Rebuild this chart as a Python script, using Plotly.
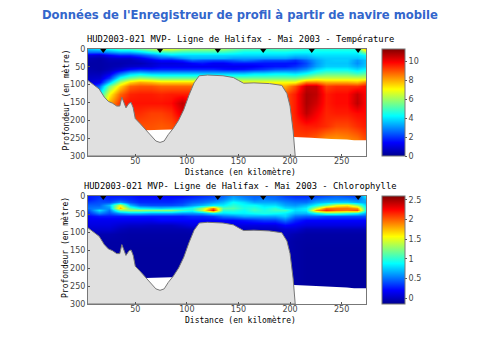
import plotly.graph_objects as go

W, H = 481, 360
distance_km = [4,15,25,35,45,55,65,75,85,95,105,115,125,135,145,155,165,175,185,195,205,215,225,235,245,255,265,274]
depth_m = [0,8,16,24,32,40,48,56,68,80,92,105,125,150,180,215,260]

temperature = [
 [3.5,3.8,4.2,4.8,4.8,5.2,5.8,6.5,6.5,6,5.8,5.8,5.8,5.8,5.4,5,5,4.8,5,5,4.8,4.6,4.6,4.6,4.6,4.6,4.6,8],
 [2.6,2.6,3,3.4,3.4,3.8,4.4,4.8,5,4.8,4.8,4.8,4.8,4.8,4.6,4.3,4.3,4.3,4.3,4.3,4.2,4.2,4.2,4.2,4.2,4.2,4.2,6],
 [1,.8,1.4,1.8,1.8,2.2,2.8,3.4,3.8,3.8,3.8,3.8,3.8,3.8,3.8,3.8,3.8,3.8,3.8,3.8,3.6,3.6,3.9,3.9,3.9,3.9,3.9,4.2],
 [.5,.4,.7,.8,.8,1.2,1.8,2.4,2.4,3,3.4,3.4,3.4,3.4,3.2,3.2,3.2,3.2,3.2,3.2,2.9,3.1,3.5,3.7,3.7,3.7,3.6,3.9],
 [.4,.3,.5,.5,.5,.8,1.1,1.5,1.5,1.8,2.5,2.3,2.2,2.2,2.4,2.7,2.5,2.2,2.2,2.2,1.9,2.5,3.2,3.6,3.7,3.7,3.1,3.6],
 [.3,.3,.4,.4,.5,.5,.8,1,1,1.1,1.4,1.6,1.3,1.3,1.6,1.6,1.6,1.6,1.6,1.6,1.6,2.2,3.1,3.6,3.6,3.6,3,3.6],
 [.3,.3,.4,.5,.7,.8,.9,1.2,1.2,1.2,1.2,1.2,1.2,1.2,1.2,1.2,1.3,1.5,1.6,1.6,1.9,2.4,3.2,3.7,3.7,3.7,3.3,3.7],
 [.4,.3,.5,.9,1.5,1.8,1.7,1.8,1.8,1.8,1.8,1.8,1.8,1.6,1.5,1.6,1.8,2,2.3,2.4,2.5,3,3.8,4.2,4.2,4.2,3.8,4.2],
 [.5,.5,1,2.5,3.5,3.8,3.5,3.5,3.5,3.5,3.5,3.5,3.5,3.5,3.5,3.5,3.8,3.8,4,4,3.8,4.2,4.8,5.2,5.2,5.2,4.8,5.2],
 [.7,.8,2,4.5,5.5,6,5.8,5.5,5.5,5.5,5.5,5.5,5.5,5.5,5.5,5.5,5.5,5.5,5.5,5.5,5.5,6,6.5,6.5,6.5,6.5,6.5,6.5],
 [.8,1.2,3.5,6.2,7.5,8,7.8,7.5,7.5,7.5,7.5,7.5,7.5,7,7,7,7,7,7,7,7,8.5,8.5,8,8,8,7.8,8.5],
 [1,2.5,5.5,7.5,8.8,9,9,8.8,8.8,8.8,8.8,8.8,8.5,8,8,8,8,8,8,8,9,10.5,10.5,9.2,9.4,9.4,9.4,9.8],
 [1,4,7,8.8,9.5,9.6,9.6,9.5,9.6,9.6,9.6,9.6,9,9,9,9,9,9,9,9,9.6,10.8,10.6,9.6,9.8,9.8,10.5,9.8],
 [1,5,8,9.4,9.7,9.7,9.7,9.7,9.8,10.6,9.8,9.7,9,9,9,9,9,9,9,9,9.6,10.8,10.4,9.6,9.8,9.8,10.6,9.8],
 [1,5,8,9.2,9.4,9.4,9.2,9.2,9.4,10.2,9.6,9.6,9,9,9,9,9,9,9,9,9.6,10.6,10,9.5,9.6,9.6,9.8,9.8],
 [1,5,8,9,9,9,9,8.9,9,9.4,9.6,9.6,9,9,9,9,9,9,9,9,9.4,9.6,9.6,9.4,9.1,9.1,9.4,9.6],
 [1,5,8,9,9,9,8.8,8.8,9,9.4,9.6,9.6,9,9,9,9,9,9,9,9,9.1,9,8.6,8,8,8.2,8.4,9],
]

chlorophyll = [
 [.25,.3,.25,.25,.25,.2,.2,.2,.2,.2,.25,.3,.35,.45,.6,.5,.45,.45,.45,.35,.3,.3,.35,.4,.45,.4,.35,.9],
 [.25,.35,.3,.35,.3,.25,.25,.25,.25,.3,.35,.4,.45,.55,.7,.6,.5,.55,.5,.45,.4,.4,.5,.55,.55,.55,.5,.7],
 [.35,.4,.4,.6,.4,.3,.3,.3,.3,.35,.45,.5,.6,.7,.9,.8,.65,.65,.65,.55,.5,.5,.65,.7,.75,.75,.65,.65],
 [.45,.45,.7,1.5,.7,.45,.4,.4,.4,.45,.6,.7,.85,.85,1,.9,.9,.8,.8,.65,.6,.7,.9,1.15,1.5,1.6,1.25,.75],
 [.5,.55,.6,1.75,1.1,.85,.8,.75,.8,.85,.95,1.3,1.95,1.1,1.1,.95,1,.9,1,.8,.75,.85,1.4,1.95,1.95,1.95,1.85,.85],
 [.4,.8,.5,1.2,1.3,1.3,1.25,1.25,1.25,1.05,.95,1.4,2.2,1,1,.9,1.05,.95,1.05,1.05,.8,.85,1.85,2.15,2,1.95,2.05,.85],
 [.3,.55,.4,.6,.7,.7,.65,.65,.65,.6,.6,.65,.85,.8,.85,.85,.9,.95,.9,.85,.7,.7,.9,1.1,1.1,1,.9,.65],
 [.2,.25,.25,.25,.25,.25,.25,.25,.25,.25,.3,.3,.35,.5,.55,.65,.65,.65,.65,.75,.5,.45,.45,.4,.4,.4,.4,.4],
 [.15,.15,.15,.15,.15,.15,.15,.2,.2,.2,.2,.2,.2,.2,.2,.25,.3,.35,.35,.5,.3,.2,.2,.2,.2,.2,.2,.2],
 [.1,.1,.1,.05,.02,.02,.0,.0,.0,.05,.1,.1,.1,.1,.1,.1,.1,.1,.1,.2,.15,.1,.1,.1,.1,.1,.1,.1],
 [.05,.05,.05,-.02,-.05,-.05,-.05,-.05,-.05,-.05,-.03,.0,.0,.0,.0,.0,.0,.0,.0,.05,.05,-.03,-.03,-.03,-.03,-.03,-.03,-.03],
 [-.02,-.05,-.05,-.07,-.08,-.08,-.08,-.08,-.08,-.08,-.08,-.05,.0,.0,.0,.0,.0,.0,.0,.0,-.05,-.08,-.08,-.08,-.08,-.08,-.08,-.08],
 [-.05,-.08,-.08,-.08,-.09,-.09,-.09,-.09,-.09,-.09,-.09,-.08,-.05,.0,.0,.0,.0,.0,.0,-.05,-.08,-.09,-.09,-.09,-.09,-.09,-.09,-.09],
 [-.05,-.08,-.09,-.09,-.1,-.1,-.1,-.1,-.1,-.1,-.1,-.08,-.05,.0,.0,.0,.0,.0,.0,-.05,-.08,-.1,-.1,-.1,-.1,-.1,-.1,-.1],
 [-.05,-.08,-.09,-.1,-.1,-.1,-.1,-.1,-.1,-.1,-.1,-.08,-.05,.0,.0,.0,.0,.0,.0,-.05,-.08,-.1,-.1,-.1,-.1,-.1,-.1,-.1],
 [-.05,-.08,-.09,-.1,-.1,-.1,-.1,-.1,-.1,-.1,-.1,-.08,-.05,.0,.0,.0,.0,.0,.0,-.05,-.08,-.1,-.1,-.1,-.1,-.1,-.1,-.1],
 [-.05,-.08,-.09,-.1,-.1,-.1,-.1,-.1,-.1,-.1,-.1,-.08,-.05,.0,.0,.0,.0,.0,.0,-.05,-.08,-.1,-.1,-.1,-.1,-.1,-.1,-.1],
]

bathy_km = [4,10,15,20,24,28,32,35,37,39,41,44,46,48,50,55,60,65,70,74,78,82,87,92,97,102,107,112,120,135,145,150,155,165,180,192,197,200,203,205]
bathy_m = [88,100,112,135,147,152,160,160,135,150,165,152,150,165,195,210,225,242,258,262,258,240,222,200,170,130,95,75,73,75,80,88,96,95,97,102,125,160,230,300]
nodata_km = [55,60,85,90,200,204,220,240,255,262,274]
nodata_m = [228,228,226,228,228,247,249,252,254,256,256]
stations_km = [19,74,130,174,221,266]

main_title = "Données de l'Enregistreur de profil à partir de navire mobile"
titles = ["HUD2003-021 MVP- Ligne de Halifax - Mai 2003 - Température",
          "HUD2003-021 MVP- Ligne de Halifax - Mai 2003 - Chlorophylle"]
xlabel = "Distance (en kilomètre)"
ylabel = "Profondeur (en mètre)"
xticks = [50,100,150,200,250]
yticks = [0,50,100,150,200,250,300]

jet = [[0,"#00008f"],[.125,"#0000ff"],[.375,"#00ffff"],[.625,"#ffff00"],[.875,"#ff0000"],[1,"#800000"]]
mono = "DejaVu Sans Mono"
fig = go.Figure()

panels = [
 dict(s="", z=temperature, zmin=0, zmax=11.3, top=49, bottom=156, tv=[0,2,4,6,8,10], tt=["0","2","4","6","8","10"]),
 dict(s="2", z=chlorophyll, zmin=-.15, zmax=2.6, top=196, bottom=304, tv=[0,.5,1,1.5,2,2.5], tt=["0","0.5","1","1.5","2","2.5"]),
]
def label(text, x, y, font, angle=0):
    fig.add_annotation(text=text, xref="paper", yref="paper", x=x/W, y=1-y/H, xanchor="center", yanchor="middle",
                       showarrow=False, textangle=angle, font=font)

for i, p in enumerate(panels):
    xa, ya = "x"+p["s"], "y"+p["s"]
    fig.add_trace(go.Heatmap(x=distance_km, y=depth_m, z=p["z"], zmin=p["zmin"], zmax=p["zmax"],
        colorscale=jet, zsmooth="best", xaxis=xa, yaxis=ya, hoverinfo="skip",
        colorbar=dict(x=382/W, xanchor="left", xpad=0, ypad=0, thickness=23, thicknessmode="pixels",
            len=(p["bottom"]-p["top"])/H, lenmode="fraction", y=1-(p["top"]+p["bottom"])/2/H, yanchor="middle",
            tickvals=p["tv"], ticktext=p["tt"], ticks="outside", ticklen=2, tickcolor="#555", tickwidth=1,
            tickfont=dict(family="DejaVu Sans", size=8, color="#444"), outlinewidth=1, outlinecolor="#777")))
    fig.add_trace(go.Scatter(x=nodata_km+[274,55], y=nodata_m+[300,300], mode="none", fill="toself",
        fillcolor="white", xaxis=xa, yaxis=ya, showlegend=False, hoverinfo="skip"))
    fig.add_trace(go.Scatter(x=bathy_km+[4], y=bathy_m+[300], mode="lines", fill="toself",
        line=dict(color="#777", width=1), fillcolor="#cccccc",
        fillpattern=dict(shape=".", size=2, solidity=.5, fgcolor="#707070", bgcolor="#ffffff"),
        xaxis=xa, yaxis=ya, showlegend=False, hoverinfo="skip"))
    fig.add_trace(go.Scatter(x=stations_km, y=[3]*len(stations_km), mode="markers", cliponaxis=False,
        marker=dict(symbol="triangle-down", size=6, color="black"), xaxis=xa, yaxis=ya,
        showlegend=False, hoverinfo="skip"))
    ax = dict(showgrid=False, zeroline=False, showline=True, mirror=True, linecolor="#777", linewidth=1,
              ticks="inside", ticklen=2, tickcolor="#555", tickfont=dict(family="DejaVu Sans", size=8, color="#444"))
    fig.update_layout({
        "xaxis"+p["s"]: dict(ax, domain=[88/W,366/W], range=[4.2,273.6], tickvals=xticks, anchor=ya, ticklabelstandoff=-3),
        "yaxis"+p["s"]: dict(ax, domain=[1-p["bottom"]/H,1-p["top"]/H], range=[300,0], tickvals=yticks, anchor=xa),
    })
    label(titles[i], 240, p["top"]-10, dict(family=mono, size=8.8, color="black"))
    label(xlabel, 240, p["bottom"]+16, dict(family=mono, size=8, color="black"))
    label(ylabel, 65, (p["top"]+p["bottom"]-4)/2, dict(family=mono, size=8, color="black"), -90)

label(main_title, 240, 15, dict(family="DejaVu Sans", size=11.6, color="#3366cc", weight="bold"))
fig.update_layout(width=W, height=H, margin=dict(l=0,r=0,t=0,b=0,autoexpand=False), paper_bgcolor="white", plot_bgcolor="white", showlegend=False)
fig.write_html("out.html", config=dict(displayModeBar=False), post_script="document.body.style.margin='0';document.body.style.overflow='hidden';")
